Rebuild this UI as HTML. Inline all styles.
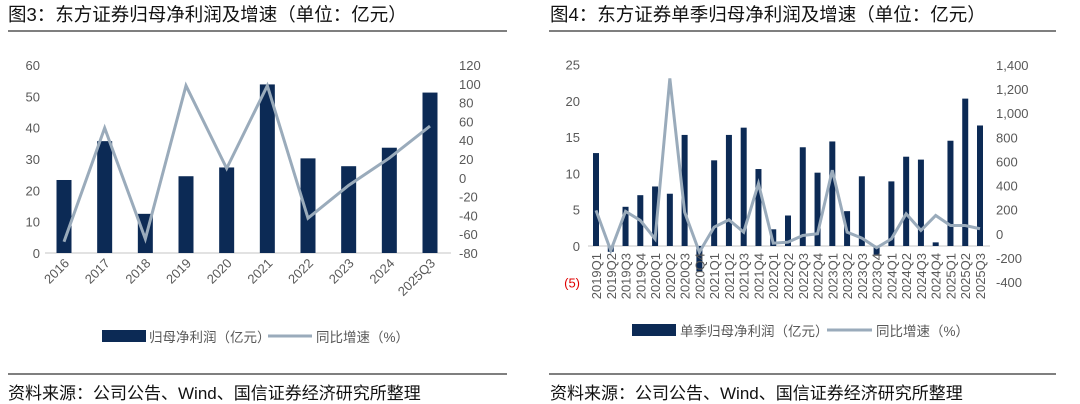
<!DOCTYPE html>
<html><head><meta charset="utf-8">
<style>
body{margin:0;background:#fff;width:1080px;height:404px;overflow:hidden;font-family:"Liberation Sans","Noto Sans CJK SC",sans-serif}
svg{display:block}
.t{font-family:"Liberation Sans","Noto Sans CJK SC",sans-serif}
.ax{font-size:13px;fill:#595959}
</style></head><body>
<svg id="s" width="1080" height="404">
<text x="8" y="21" font-size="18.5" fill="#111" class="t">图3：东方证券归母净利润及增速（单位：亿元）</text>
<line x1="8" y1="31" x2="507" y2="31" stroke="#555" stroke-width="1.5"/>
<text x="550" y="21" font-size="18.5" fill="#111" class="t">图4：东方证券单季归母净利润及增速（单位：亿元）</text>
<line x1="549" y1="31" x2="1056" y2="31" stroke="#555" stroke-width="1.5"/>
<line x1="8" y1="374" x2="507" y2="374" stroke="#555" stroke-width="1.5"/>
<text x="8" y="399" font-size="17" fill="#111" class="t">资料来源：公司公告、Wind、国信证券经济研究所整理</text>
<line x1="549" y1="374" x2="1056" y2="374" stroke="#555" stroke-width="1.5"/>
<text x="550" y="399" font-size="17" fill="#111" class="t">资料来源：公司公告、Wind、国信证券经济研究所整理</text>
<g id="c1"></g><g id="c2"></g>
</svg>
<script>
const cats1=["2016","2017","2018","2019","2020","2021","2022","2023","2024","2025Q3"];
const profit1=[23.3,35.7,12.5,24.5,27.3,53.8,30.2,27.7,33.6,51.2];
const growth1=[-68,53,-65,98,10,98,-43,-8,21,55];
const leftTicks1=[0,10,20,30,40,50,60];
const rightTicks1=[-80,-60,-40,-20,0,20,40,60,80,100,120];

const cats2=["2019Q1","2019Q2","2019Q3","2019Q4","2020Q1","2020Q2","2020Q3","2020Q4","2021Q1","2021Q2","2021Q3","2021Q4","2022Q1","2022Q2","2022Q3","2022Q4","2023Q1","2023Q2","2023Q3","2023Q4","2024Q1","2024Q2","2024Q3","2024Q4","2025Q1","2025Q2","2025Q3"];
const profit2=[12.8,-0.8,5.4,7.0,8.2,7.2,15.3,-3.5,11.8,15.3,16.3,10.6,2.3,4.2,13.6,10.1,14.4,4.8,9.6,-1.2,8.9,12.3,11.9,0.5,14.5,20.3,16.6];
const growth2=[194,-139,186,111,-42,1289,180,-152,55,116,14,416,-78,-69,-14,0,527,14,-36,-116,-42,166,28,152,69,69,42];
const leftTicks2=[-5,0,5,10,15,20,25];
const leftTickLabels2=["(5)","0","5","10","15","20","25"];
const rightTicks2=[-400,-200,0,200,400,600,800,1000,1200,1400];
const rightTickLabels2=["-400","-200","0","200","400","600","800","1,000","1,200","1,400"];

const NS="http://www.w3.org/2000/svg";
function mk(p,tag,a,txt){const e=document.createElementNS(NS,tag);for(const k in a)e.setAttribute(k,a[k]);if(txt!=null)e.textContent=txt;p.appendChild(e);return e;}
const BAR="#0c2a55",LINE="#9aabbb";

(function(){
const g=document.getElementById('c1');
const yL=v=>253-(v-0)/60*188, yR=v=>253-(v+80)/200*188;
const x0=64,dx=(430-64)/9, xs=i=>x0+i*dx;
leftTicks1.forEach(v=>{const t=mk(g,'text',{x:40,y:yL(v)+5,'text-anchor':'end',class:'t ax'},v);

});
rightTicks1.forEach(v=>{const t=mk(g,'text',{x:459,y:yR(v)+5,class:'t ax'},v);

});
const base=mk(g,'line',{x1:45,x2:451,y1:253,y2:253,stroke:'#d9d9d9','stroke-width':1.5});


profit1.forEach((v,i)=>{const r=mk(g,'rect',{x:xs(i)-7.5,y:yL(Math.max(v,0)),width:15,height:Math.abs(yL(v)-yL(0)),fill:BAR});

});
const pl=mk(g,'polyline',{points:growth1.map((v,i)=>xs(i)+','+yR(v)).join(' '),fill:'none',stroke:LINE,'stroke-width':3,'stroke-linejoin':'miter'});


cats1.forEach((c,i)=>{const t=mk(g,'text',{x:xs(i)+6,y:264,'text-anchor':'end',class:'t ax',transform:`rotate(-45 ${xs(i)+6} 264)`},c);

});
const lr=mk(g,'rect',{x:102,y:330,width:44,height:12,fill:BAR});


const lt=mk(g,'text',{x:149,y:342,class:'t',style:'font-size:13.5px;fill:#595959'},'归母净利润（亿元）');


const ll=mk(g,'line',{x1:268,x2:312,y1:336,y2:336,stroke:LINE,'stroke-width':3});


const lt2=mk(g,'text',{x:316,y:342,class:'t',style:'font-size:13.5px;fill:#595959'},'同比增速（%）');


})();

(function(){
const g=document.getElementById('c2');
const yL=v=>246-v/5*36.3, yR=v=>233.8-v/1800*217;
const x0=596,dx=(980-596)/26, xs=i=>x0+i*dx;
leftTicks2.forEach((v,i)=>{const t=mk(g,'text',{x:580,y:yL(v)+5,'text-anchor':'end',class:'t ax',style:v<0?'fill:#e00000':''},leftTickLabels2[i]);

});
rightTicks2.forEach((v,i)=>{const t=mk(g,'text',{x:996,y:yR(v)+5,class:'t ax'},rightTickLabels2[i]);

});
const base=mk(g,'line',{x1:588,x2:990,y1:246,y2:246,stroke:'#d9d9d9','stroke-width':1.5});


profit2.forEach((v,i)=>{const r=mk(g,'rect',{x:xs(i)-3,y:yL(Math.max(v,0)),width:6,height:Math.abs(yL(v)-yL(0)),fill:BAR});

});
const pl=mk(g,'polyline',{points:growth2.map((v,i)=>xs(i)+','+yR(v)).join(' '),fill:'none',stroke:LINE,'stroke-width':3});


cats2.forEach((c,i)=>{const t=mk(g,'text',{x:xs(i)+5,y:253,'text-anchor':'end',class:'t ax',style:'font-size:13px',transform:`rotate(-90 ${xs(i)+5} 253)`},c);

});
const lr=mk(g,'rect',{x:632,y:324,width:44,height:12,fill:BAR});


const lt=mk(g,'text',{x:680,y:336,class:'t',style:'font-size:13.5px;fill:#595959'},'单季归母净利润（亿元）');


const ll=mk(g,'line',{x1:827,x2:872,y1:330,y2:330,stroke:LINE,'stroke-width':3});


const lt2=mk(g,'text',{x:876,y:336,class:'t',style:'font-size:13.5px;fill:#595959'},'同比增速（%）');


})();
</script>
</body></html>
